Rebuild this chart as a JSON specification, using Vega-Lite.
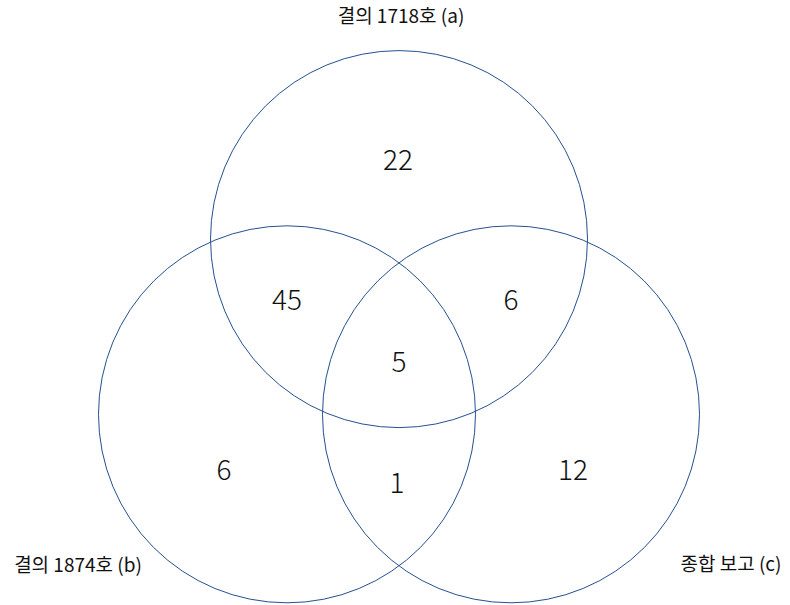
{
  "$schema": "https://vega.github.io/schema/vega-lite/v6.json",
  "width": 790,
  "height": 605,
  "padding": 0,
  "autosize": {"type": "fit", "contains": "padding"},
  "background": "white",
  "config": {"view": {"stroke": null}},
  "datasets": {
    "sets": [
      {"set": "a", "cx": 399, "cy": 239.5},
      {"set": "b", "cx": 287, "cy": 415},
      {"set": "c", "cx": 511, "cy": 415}
    ],
    "regions": [
      {"region": "a only", "count": 22, "x": 398, "y": 162},
      {"region": "a∩b", "count": 45, "x": 287, "y": 302},
      {"region": "a∩c", "count": 6, "x": 511, "y": 302},
      {"region": "a∩b∩c", "count": 5, "x": 399, "y": 365},
      {"region": "b only", "count": 6, "x": 224, "y": 473},
      {"region": "b∩c", "count": 1, "x": 397, "y": 486},
      {"region": "c only", "count": 12, "x": 573, "y": 473}
    ],
    "labels": [
      {"label": "결의 1718호 (a)", "x": 401, "y": 17.5},
      {"label": "결의 1874호 (b)", "x": 78, "y": 567},
      {"label": "종합 보고 (c)", "x": 731, "y": 566}
    ]
  },
  "layer": [
    {
      "data": {"name": "sets"},
      "mark": {"type": "point", "shape": "circle", "filled": false, "size": 142130, "stroke": "#25508f", "strokeWidth": 1, "opacity": 1},
      "encoding": {
        "x": {"field": "cx", "type": "quantitative", "scale": {"domain": [0, 790], "nice": false, "zero": false}, "axis": null},
        "y": {"field": "cy", "type": "quantitative", "scale": {"domain": [0, 605], "nice": false, "zero": false, "reverse": true}, "axis": null}
      }
    },
    {
      "data": {"name": "regions"},
      "mark": {"type": "text", "font": "Noto Sans CJK KR", "fontSize": 28, "fontWeight": 300, "color": "#111111", "align": "center", "baseline": "middle"},
      "encoding": {
        "x": {"field": "x", "type": "quantitative", "scale": {"domain": [0, 790], "nice": false, "zero": false}, "axis": null},
        "y": {"field": "y", "type": "quantitative", "scale": {"domain": [0, 605], "nice": false, "zero": false, "reverse": true}, "axis": null},
        "text": {"field": "count", "type": "quantitative"}
      }
    },
    {
      "data": {"name": "labels"},
      "mark": {"type": "text", "font": "Noto Sans CJK KR", "fontSize": 19, "fontWeight": 400, "color": "#111111", "align": "center", "baseline": "middle"},
      "encoding": {
        "x": {"field": "x", "type": "quantitative", "scale": {"domain": [0, 790], "nice": false, "zero": false}, "axis": null},
        "y": {"field": "y", "type": "quantitative", "scale": {"domain": [0, 605], "nice": false, "zero": false, "reverse": true}, "axis": null},
        "text": {"field": "label", "type": "nominal"}
      }
    }
  ]
}
